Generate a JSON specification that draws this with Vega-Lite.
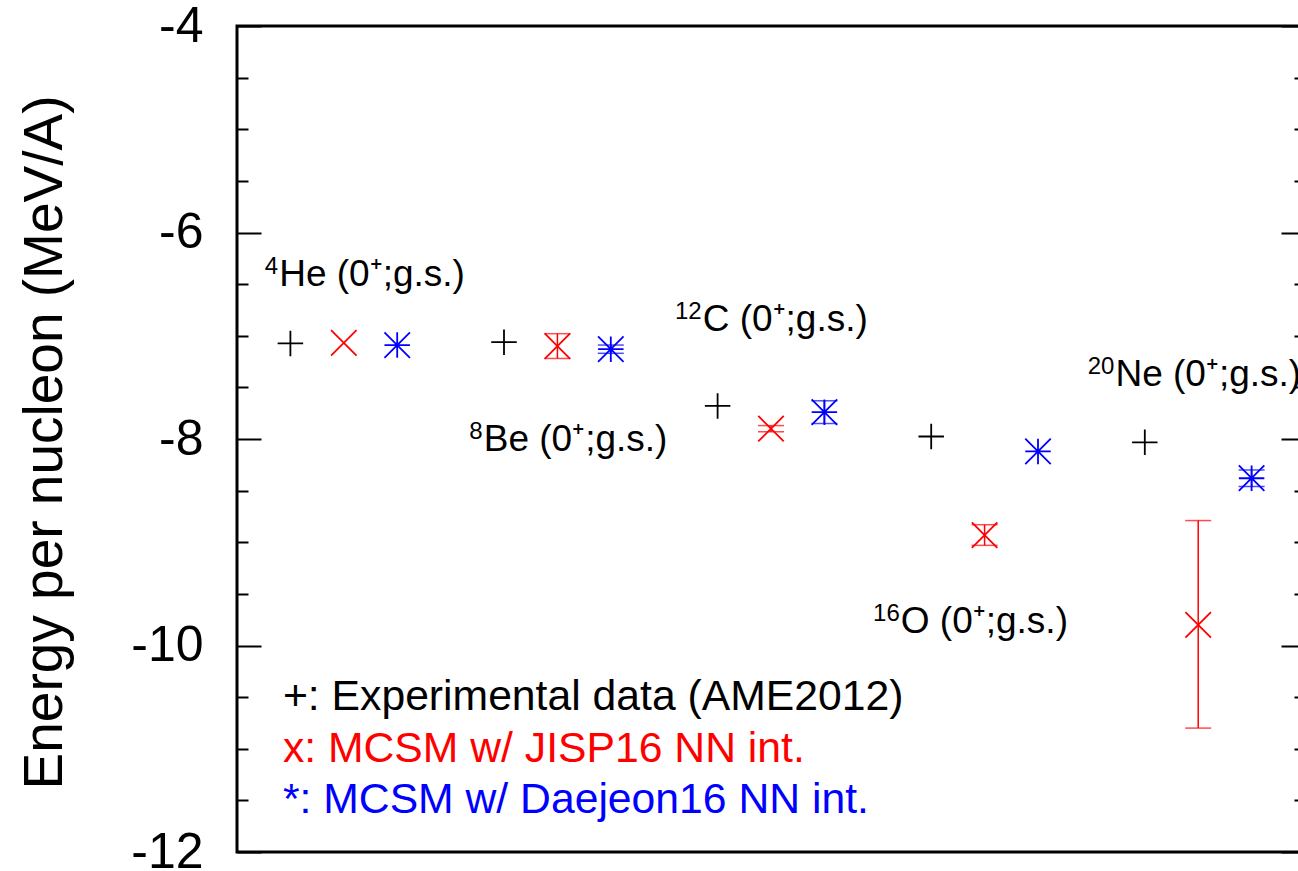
{
  "$schema": "https://vega.github.io/schema/vega-lite/v6.json",
  "width": 1068,
  "height": 826,
  "autosize": {"type": "none"},
  "padding": {"left": 237, "top": 26, "right": 0, "bottom": 19},
  "background": "white",
  "config": {
    "view": {"stroke": "black", "strokeWidth": 3},
    "font": "Liberation Sans",
    "text": {"font": "Liberation Sans"}
  },
  "datasets": {
    "pts": [
      {"nucleus": "4He", "series": "Experimental", "x": 1, "e": -7.074},
      {"nucleus": "4He", "series": "JISP16", "x": 2, "e": -7.07},
      {"nucleus": "4He", "series": "Daejeon16", "x": 3, "e": -7.09},
      {"nucleus": "8Be", "series": "Experimental", "x": 5, "e": -7.062},
      {"nucleus": "8Be", "series": "JISP16", "x": 6, "e": -7.10, "lo": -7.22, "hi": -6.98},
      {"nucleus": "8Be", "series": "Daejeon16", "x": 7, "e": -7.13, "lo": -7.17, "hi": -7.09},
      {"nucleus": "12C", "series": "Experimental", "x": 9, "e": -7.68},
      {"nucleus": "12C", "series": "JISP16", "x": 10, "e": -7.90, "lo": -7.93, "hi": -7.87},
      {"nucleus": "12C", "series": "Daejeon16", "x": 11, "e": -7.74, "lo": -7.85, "hi": -7.63},
      {"nucleus": "16O", "series": "Experimental", "x": 13, "e": -7.976},
      {"nucleus": "16O", "series": "JISP16", "x": 14, "e": -8.93, "lo": -9.03, "hi": -8.83},
      {"nucleus": "16O", "series": "Daejeon16", "x": 15, "e": -8.12},
      {"nucleus": "20Ne", "series": "Experimental", "x": 17, "e": -8.032},
      {"nucleus": "20Ne", "series": "JISP16", "x": 18, "e": -9.80, "lo": -10.80, "hi": -8.79},
      {"nucleus": "20Ne", "series": "Daejeon16", "x": 19, "e": -8.38, "lo": -8.46, "hi": -8.30}
    ],
    "labels": [
      {"sup": "4", "main": "He (0⁺;g.s.)", "x": 0.79, "y": -6.41},
      {"sup": "8", "main": "Be (0⁺;g.s.)", "x": 4.62, "y": -8.01},
      {"sup": "12", "main": "C (0⁺;g.s.)", "x": 8.72, "y": -6.85},
      {"sup": "16", "main": "O (0⁺;g.s.)", "x": 12.43, "y": -9.77},
      {"sup": "20", "main": "Ne (0⁺;g.s.)", "x": 16.45, "y": -7.38}
    ],
    "legend": [
      {"series": "Experimental", "label": "+: Experimental data (AME2012)", "x": 0.86, "y": -10.5},
      {"series": "JISP16", "label": "x: MCSM w/ JISP16 NN int.", "x": 0.86, "y": -11.0},
      {"series": "Daejeon16", "label": "*: MCSM w/ Daejeon16 NN int.", "x": 0.86, "y": -11.5}
    ]
  },
  "layer": [
    {
      "data": {"name": "pts"},
      "transform": [{"filter": "isValid(datum.lo)"}],
      "mark": {"type": "rule", "strokeWidth": 1.5},
      "encoding": {
        "x": {"field": "x", "type": "quantitative", "scale": {"domain": [0, 20], "nice": false, "zero": false}, "axis": null},
        "y": {"field": "lo", "type": "quantitative", "scale": {"domain": [-12, -4], "nice": false, "zero": false},
          "axis": {"orient": "left", "values": [-12, -10, -8, -6, -4], "domain": false, "grid": false,
            "tickSize": -24, "tickWidth": 2, "tickColor": "black",
            "labelExpr": "'' + datum.value", "labelFontSize": 50, "labelColor": "black", "labelPadding": 58,
            "labelFont": "Liberation Sans", "labelFlush": false, "labelOverlap": false,
            "title": "Energy per nucleon (MeV/A)", "titleFontSize": 55, "titleFontWeight": "normal", "titleColor": "black",
            "titleFont": "Liberation Sans", "titleAngle": -90, "titleX": -176, "titleY": 416, "titleAlign": "center", "titleBaseline": "alphabetic"}},
        "y2": {"field": "hi"},
        "color": {"field": "series", "type": "nominal", "scale": {"domain": ["Experimental", "JISP16", "Daejeon16"], "range": ["#000000", "#ff0000", "#0000ff"]}, "legend": null}
      }
    },
    {
      "data": {"name": "pts"},
      "transform": [{"filter": "isValid(datum.lo)"}],
      "mark": {"type": "tick", "orient": "horizontal", "size": 26, "thickness": 1.5},
      "encoding": {
        "x": {"field": "x", "type": "quantitative", "scale": {"domain": [0, 20], "nice": false, "zero": false}, "axis": null},
        "y": {"field": "lo", "type": "quantitative", "scale": {"domain": [-12, -4], "nice": false, "zero": false},
          "axis": {"orient": "left", "values": [-11.5, -11, -10.5, -9.5, -9, -8.5, -7.5, -7, -6.5, -5.5, -5, -4.5], "domain": false, "grid": false,
            "tickSize": -11, "tickWidth": 2, "tickColor": "black", "labels": false, "title": null}},
        "color": {"field": "series", "type": "nominal", "scale": {"domain": ["Experimental", "JISP16", "Daejeon16"], "range": ["#000000", "#ff0000", "#0000ff"]}, "legend": null}
      }
    },
    {
      "data": {"name": "pts"},
      "transform": [{"filter": "isValid(datum.hi)"}],
      "mark": {"type": "tick", "orient": "horizontal", "size": 26, "thickness": 1.5},
      "encoding": {
        "x": {"field": "x", "type": "quantitative", "scale": {"domain": [0, 20], "nice": false, "zero": false}, "axis": null},
        "y": {"field": "hi", "type": "quantitative", "scale": {"domain": [-12, -4], "nice": false, "zero": false},
          "axis": {"orient": "right", "values": [-12, -10, -8, -6, -4], "domain": false, "grid": false,
            "tickSize": -24, "tickWidth": 2, "tickColor": "black", "labels": false, "title": null}},
        "color": {"field": "series", "type": "nominal", "scale": {"domain": ["Experimental", "JISP16", "Daejeon16"], "range": ["#000000", "#ff0000", "#0000ff"]}, "legend": null}
      }
    },
    {
      "data": {"name": "pts"},
      "mark": {"type": "point", "filled": false, "size": 650, "strokeWidth": 1.8, "opacity": 1},
      "encoding": {
        "x": {"field": "x", "type": "quantitative", "scale": {"domain": [0, 20], "nice": false, "zero": false}, "axis": null},
        "y": {"field": "e", "type": "quantitative", "scale": {"domain": [-12, -4], "nice": false, "zero": false},
          "axis": {"orient": "right", "values": [-11.5, -11, -10.5, -9.5, -9, -8.5, -7.5, -7, -6.5, -5.5, -5, -4.5], "domain": false, "grid": false,
            "tickSize": -11, "tickWidth": 2, "tickColor": "black", "labels": false, "title": null}},
        "color": {"field": "series", "type": "nominal", "scale": {"domain": ["Experimental", "JISP16", "Daejeon16"], "range": ["#000000", "#ff0000", "#0000ff"]}, "legend": null},
        "shape": {"field": "series", "type": "nominal", "legend": null,
          "scale": {"domain": ["Experimental", "JISP16", "Daejeon16"],
            "range": ["M-1,0H1M0,-1V1", "M-1,-1L1,1M-1,1L1,-1", "M-1,0H1M0,-1V1M-1,-1L1,1M-1,1L1,-1"]}}
      }
    },
    {
      "data": {"name": "labels"},
      "mark": {"type": "text", "align": "left", "baseline": "middle", "fontSize": 37, "color": "black", "font": "Liberation Sans"},
      "encoding": {
        "x": {"field": "x", "type": "quantitative", "scale": {"domain": [0, 20], "nice": false, "zero": false}, "axis": null},
        "y": {"field": "y", "type": "quantitative", "scale": {"domain": [-12, -4], "nice": false, "zero": false}, "axis": null},
        "text": {"field": "main"}
      }
    },
    {
      "data": {"name": "labels"},
      "mark": {"type": "text", "align": "right", "baseline": "middle", "fontSize": 24, "dx": -1, "dy": -8, "color": "black", "font": "Liberation Sans"},
      "encoding": {
        "x": {"field": "x", "type": "quantitative", "scale": {"domain": [0, 20], "nice": false, "zero": false}, "axis": null},
        "y": {"field": "y", "type": "quantitative", "scale": {"domain": [-12, -4], "nice": false, "zero": false}, "axis": null},
        "text": {"field": "sup"}
      }
    },
    {
      "data": {"name": "legend"},
      "mark": {"type": "text", "align": "left", "baseline": "middle", "fontSize": 42.7, "font": "Liberation Sans"},
      "encoding": {
        "x": {"field": "x", "type": "quantitative", "scale": {"domain": [0, 20], "nice": false, "zero": false}, "axis": null},
        "y": {"field": "y", "type": "quantitative", "scale": {"domain": [-12, -4], "nice": false, "zero": false}, "axis": null},
        "text": {"field": "label"},
        "color": {"field": "series", "type": "nominal", "scale": {"domain": ["Experimental", "JISP16", "Daejeon16"], "range": ["#000000", "#ff0000", "#0000ff"]}, "legend": null}
      }
    }
  ],
  "resolve": {"axis": {"y": "independent"}}
}
